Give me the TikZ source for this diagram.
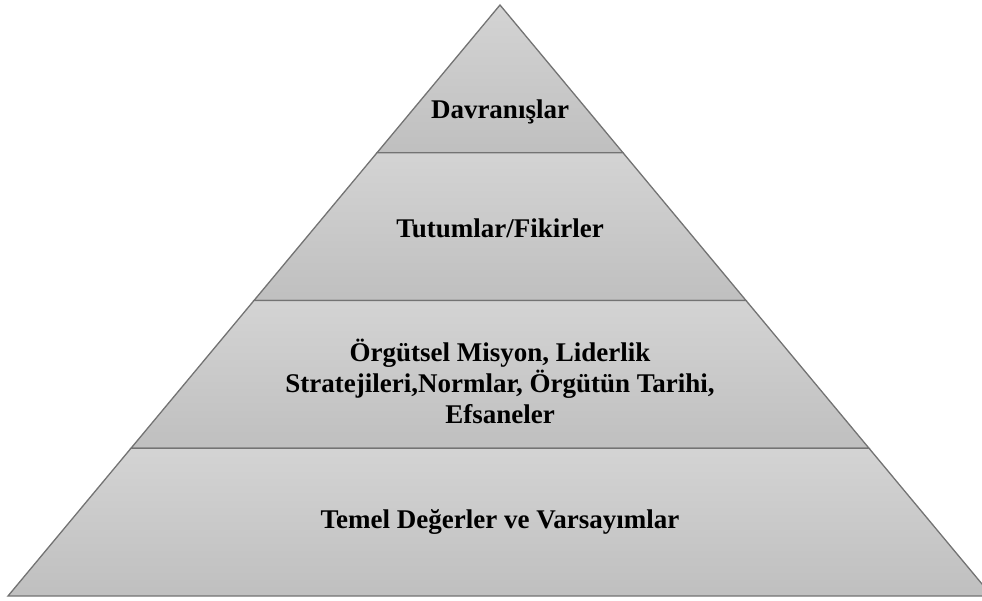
\documentclass[tikz,border=0pt]{standalone}
\usepackage{fontspec}
\setmainfont{Liberation Serif}
\usetikzlibrary{calc}

\begin{document}
\begin{tikzpicture}[x=1pt,y=-1pt,
    band/.style={draw=black!55, line width=1.3pt, top color=gray!34, bottom color=gray!50},
    tierlabel/.style={font=\bfseries\fontsize{27}{31}\selectfont, align=center}]
    \useasboundingbox (0,0) rectangle (982,601);
    % Culture levels pyramid
    \coordinate (apex) at (500,5);
    \coordinate (baseL) at (8,596);
    \coordinate (baseR) at (992,596);
    \foreach \i in {1,2,3} {
        \coordinate (left\i) at ($(apex)!\i/4!(baseL)$);
        \coordinate (right\i) at ($(apex)!\i/4!(baseR)$);
    }

    \draw[band] (apex) -- (right1) -- (left1) -- cycle;
    \draw[band] (left1) -- (right1) -- (right2) -- (left2) -- cycle;
    \draw[band] (left2) -- (right2) -- (right3) -- (left3) -- cycle;
    \draw[band] (left3) -- (right3) -- (baseR) -- (baseL) -- cycle;

    \node[tierlabel] (behaviour) at (500,112) {Davranışlar};
    \node[tierlabel] (attitudes) at (500,228) {Tutumlar/Fikirler};
    \node[tierlabel] (mission) at (500,381) {Örgütsel Misyon, Liderlik\\Stratejileri,Normlar, Örgütün Tarihi,\\Efsaneler};
    \node[tierlabel] (values) at (500,522) {Temel Değerler ve Varsayımlar};
\end{tikzpicture}
\end{document}
